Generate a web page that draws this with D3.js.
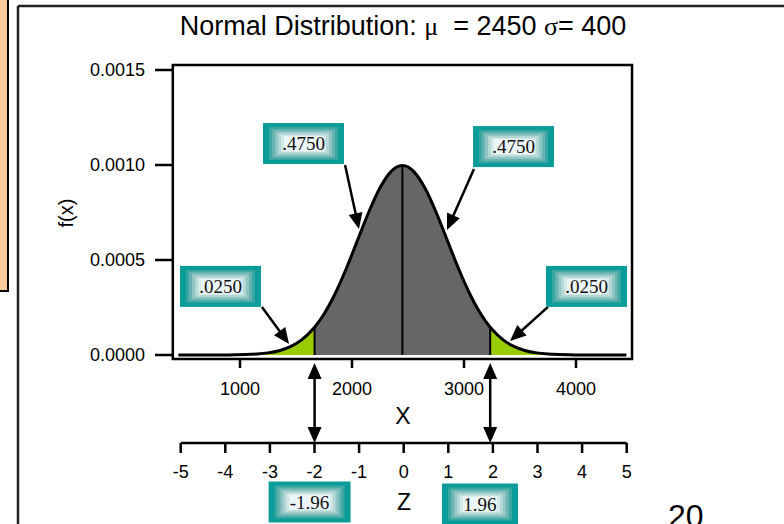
<!DOCTYPE html>
<html><head><meta charset="utf-8">
<script src="https://cdn.jsdelivr.net/npm/d3@7"></script>
<style>html,body{margin:0;padding:0;background:#fff;}svg{display:block;}</style>
</head><body>
<script>
// ---- data ----
const mu = 2450, sigma = 400;
const xValues = [450,550,650,750,850,950,1050,1150,1250,1350,1450,1550,1650,1666,1750,1850,1950,2050,2150,2250,2350,2450,
  2550,2650,2750,2850,2950,3050,3150,3234,3250,3350,3450,3550,3650,3750,3850,3950,4050,4150,4250,4350,4450];
const fValues = [0,0,0,0,0.0000003,0.0000009,0.0000022,0.0000051,0.0000111,0.0000227,0.0000438,0.0000794,0.0001350,0.0001461,0.0002157,0.0003238,0.0004566,0.0006049,0.0007528,0.0008802,0.0009667,0.0009974,
  0.0009667,0.0008802,0.0007528,0.0006049,0.0004566,0.0003238,0.0002157,0.0001461,0.0001350,0.0000794,0.0000438,0.0000227,0.0000111,0.0000051,0.0000022,0.0000009,0.0000003,0,0,0,0];
const xLower = 1666, xUpper = 3234;
const xTicks = [1000,2000,3000,4000];
const yTicks = [0,0.0005,0.0010,0.0015];
const yTickLabels = ["0.0000","0.0005","0.0010","0.0015"];
const zTicks = [-5,-4,-3,-2,-1,0,1,2,3,4,5];
const zCritical = [-1.96, 1.96];
const areaLabels = [".0250",".4750",".4750",".0250"];
const zLabels = ["-1.96","1.96"];

// ---- layout ----
const W = 784, H = 524;
const svg = d3.select("body").append("svg").attr("width",W).attr("height",H);
const x = d3.scaleLinear().domain([400,4500]).range([172.8,632]);
const y = d3.scaleLinear().domain([0,0.0015]).range([355,70]);
const z = d3.scaleLinear().domain([-5,5]).range([180.7,626.7]);
const frameTop = 65, frameBottom = 359;
const fontSans = "Liberation Sans, Arial, sans-serif";
const fontSerif = "Liberation Serif, Times New Roman, serif";

// slide decorations
svg.append("rect").attr("x",-2).attr("y",-2).attr("width",10).attr("height",293)
  .attr("fill","#FFCC99").attr("stroke","#000").attr("stroke-width",2);
svg.append("line").attr("x1",18).attr("x2",18).attr("y1",6).attr("y2",H).attr("stroke","#222").attr("stroke-width",2.5);
svg.append("line").attr("x1",18).attr("x2",W).attr("y1",6).attr("y2",6).attr("stroke","#222").attr("stroke-width",2.5);

// title
const title = svg.append("text").attr("x",403).attr("y",35).attr("text-anchor","middle")
  .attr("font-family",fontSans).attr("font-size",27).attr("fill","#000");
title.append("tspan").text("Normal Distribution: ");
title.append("tspan").attr("font-family",fontSerif).attr("font-size",26).text("\u03BC");
title.append("tspan").text("\u00A0 = 2450 ");
title.append("tspan").attr("font-family",fontSerif).attr("font-size",26).text("\u03C3");
title.append("tspan").text("= 400");

const pts = xValues.map((v,i)=>({x:v,f:fValues[i]}));
const area = d3.area().x(d=>x(d.x)).y0(y(0)).y1(d=>y(d.f)).curve(d3.curveMonotoneX);
const line = d3.line().x(d=>x(d.x)).y(d=>y(d.f)).curve(d3.curveMonotoneX);

svg.append("path").datum(pts.filter(d=>d.x<=xLower)).attr("d",area).attr("fill","#99CC00");
svg.append("path").datum(pts.filter(d=>d.x>=xUpper)).attr("d",area).attr("fill","#99CC00");
svg.append("path").datum(pts.filter(d=>d.x>=xLower && d.x<=xUpper)).attr("d",area).attr("fill","#666666");

// vertical lines at bounds and mean
[xLower, mu, xUpper].forEach(v=>{
  const p = pts.find(d=>d.x===v);
  svg.append("line").attr("x1",x(v)).attr("x2",x(v)).attr("y1",y(0)).attr("y2",y(p.f))
    .attr("stroke","#000").attr("stroke-width",2);
});
svg.append("path").datum(pts).attr("d",line).attr("fill","none").attr("stroke","#000").attr("stroke-width",3);

// frame
svg.append("rect").attr("x",x(400)).attr("y",frameTop).attr("width",x(4500)-x(400)).attr("height",frameBottom-frameTop)
  .attr("fill","none").attr("stroke","#000").attr("stroke-width",2.5);

// y axis
yTicks.forEach((t,i)=>{
  svg.append("line").attr("x1",155).attr("x2",x(400)).attr("y1",y(t)).attr("y2",y(t)).attr("stroke","#000").attr("stroke-width",2.5);
  svg.append("text").attr("x",145).attr("y",y(t)).attr("dy","0.36em").attr("text-anchor","end")
    .attr("font-family",fontSans).attr("font-size",18).text(yTickLabels[i]);
});
svg.append("text").attr("transform","translate(73,213) rotate(-90)").attr("text-anchor","middle")
  .attr("font-family",fontSans).attr("font-size",20).text("f(x)");

// x axis ticks
xTicks.forEach(t=>{
  svg.append("line").attr("x1",x(t)).attr("x2",x(t)).attr("y1",frameBottom).attr("y2",368).attr("stroke","#000").attr("stroke-width",2.5);
  svg.append("text").attr("x",x(t)).attr("y",395).attr("text-anchor","middle")
    .attr("font-family",fontSans).attr("font-size",18).text(d3.format("d")(t));
});
svg.append("text").attr("x",403).attr("y",424).attr("text-anchor","middle")
  .attr("font-family",fontSans).attr("font-size",23).text("X");

// z axis
const zy = 443;
svg.append("line").attr("x1",z(-5)).attr("x2",z(5)).attr("y1",zy).attr("y2",zy).attr("stroke","#000").attr("stroke-width",2.5);
zTicks.forEach(t=>{
  svg.append("line").attr("x1",z(t)).attr("x2",z(t)).attr("y1",zy).attr("y2",zy+10).attr("stroke","#000").attr("stroke-width",2.5);
  svg.append("text").attr("x",z(t)).attr("y",478).attr("text-anchor","middle")
    .attr("font-family",fontSans).attr("font-size",18).text(t);
});
svg.append("text").attr("x",404).attr("y",510).attr("text-anchor","middle")
  .attr("font-family",fontSans).attr("font-size",23).text("Z");

// arrows
function arrow(x1,y1,x2,y2){
  const dx=x2-x1, dy=y2-y1, L=Math.hypot(dx,dy), ux=dx/L, uy=dy/L;
  const hl=16, hw=7;
  svg.append("line").attr("x1",x1).attr("y1",y1).attr("x2",x2-ux*hl*0.8).attr("y2",y2-uy*hl*0.8)
    .attr("stroke","#000").attr("stroke-width",2.5);
  const bx=x2-ux*hl, by=y2-uy*hl;
  svg.append("path").attr("d",`M${x2},${y2}L${bx-uy*hw},${by+ux*hw}L${bx+uy*hw},${by-ux*hw}Z`).attr("fill","#000");
}
// double arrows linking X to Z
zCritical.forEach((zc,i)=>{
  const xv = i===0 ? xLower : xUpper;
  const xa = x(xv);
  const mid = (363+zy)/2;
  arrow(xa,mid,xa,363);
  arrow(xa,mid,xa,zy);
});

// label boxes (teal frame fading to white)
const bandColors = ["#0a9c98","#3aa6a2","#66b4b1","#90c5c3","#b5d8d6","#d4e8e7","#edf6f6"];
const bandInsetX = [0,6,9,12,15,18,21];
const bandInsetY = [0,4,6,8,10,12,13];
function labelBox(cx,cy,w,h,txt){
  bandColors.forEach((c,i)=>{
    const ix = bandInsetX[i], iy = bandInsetY[i];
    svg.append("rect").attr("x",cx-w/2+ix).attr("y",cy-h/2+iy).attr("width",w-2*ix).attr("height",h-2*iy).attr("fill",c);
  });
  svg.append("text").attr("x",cx).attr("y",cy).attr("dy","0.35em").attr("text-anchor","middle")
    .attr("font-family",fontSerif).attr("font-size",19).attr("fill","#111").text(txt);
}
// annotations in data coordinates: box centre, arrow start, arrow tip
const ann = [
  {box:[826,0.000361], from:[1196,0.000253], to:[1438,0.000058]},
  {box:[1567,0.001113], from:[1938,0.001000], to:[2062,0.000663]},
  {box:[3442,0.001097], from:[3089,0.000979], to:[2848,0.000658]},
  {box:[4094,0.000361], from:[3750,0.000253], to:[3411,0.0000737]}
];
ann.forEach((a,i)=>{
  arrow(x(a.from[0]),y(a.from[1]),x(a.to[0]),y(a.to[1]));
  labelBox(x(a.box[0]),y(a.box[1]),81,41,areaLabels[i]);
});
labelBox(z(-2.11),502,82,41,zLabels[0]);
labelBox(z(1.71),504,76,41,zLabels[1]);

// slide number
svg.append("text").attr("x",668).attr("y",527).attr("font-family",fontSans).attr("font-size",32).text("20");
</script>
</body></html>
